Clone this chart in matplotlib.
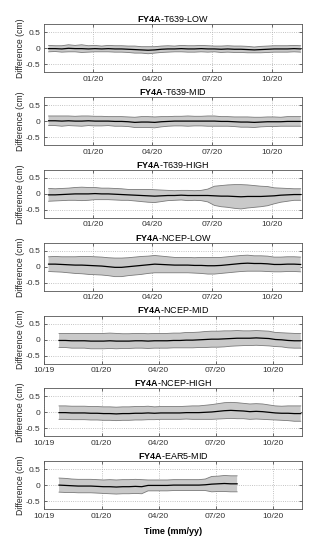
import matplotlib
matplotlib.use("Agg")
import matplotlib.pyplot as plt
import matplotlib.dates as mdates
import numpy as np
import pandas as pd

plt.rcParams['font.family'] = ['Liberation Sans', 'DejaVu Sans']
plt.rcParams['mathtext.fontset'] = 'custom'
plt.rcParams['mathtext.rm'] = 'Liberation Sans'
plt.rcParams['mathtext.bf'] = 'Liberation Sans:bold'

dates = pd.date_range('2019-10-25', '2020-11-14', periods=39)

titles = ['T639-LOW', 'T639-MID', 'T639-HIGH', 'NCEP-LOW',
          'NCEP-MID', 'NCEP-HIGH', 'EAR5-MID']

mean_t639_low = [-0.01,-0.01,-0.02,0.0,-0.01,-0.01,-0.02,-0.01,-0.02,-0.01,-0.02,-0.02,-0.03,-0.04,-0.05,-0.06,-0.05,-0.03,-0.02,-0.02,-0.01,-0.02,-0.02,-0.01,-0.02,-0.02,-0.03,-0.02,-0.03,-0.03,-0.04,-0.05,-0.04,-0.03,-0.02,-0.02,-0.02,-0.01,-0.02]
std_t639_low = [0.1,0.09,0.1,0.11,0.1,0.12,0.1,0.1,0.09,0.1,0.1,0.1,0.1,0.11,0.1,0.11,0.1,0.1,0.1,0.09,0.1,0.1,0.1,0.1,0.1,0.09,0.1,0.1,0.1,0.1,0.1,0.09,0.1,0.1,0.1,0.1,0.1,0.1,0.1]

mean_t639_mid = [0.01,0.01,0.0,0.01,0.0,0.0,0.01,0.0,0.0,0.0,-0.01,-0.01,-0.02,-0.04,-0.03,-0.03,-0.04,-0.02,-0.01,0.0,0.0,0.0,0.0,0.0,0.0,0.0,-0.01,-0.01,-0.02,-0.03,-0.03,-0.04,-0.03,-0.02,-0.02,-0.02,-0.01,-0.01,-0.01]
std_t639_mid = [0.15,0.15,0.16,0.15,0.15,0.16,0.15,0.15,0.15,0.14,0.15,0.15,0.15,0.16,0.17,0.17,0.17,0.16,0.15,0.15,0.15,0.16,0.15,0.15,0.16,0.16,0.15,0.15,0.15,0.16,0.16,0.16,0.15,0.15,0.15,0.14,0.15,0.15,0.15]

mean_t639_high = [-0.03,-0.03,-0.02,-0.01,0.0,0.0,0.0,0.01,0.0,0.0,-0.01,-0.02,-0.03,-0.04,-0.05,-0.06,-0.07,-0.06,-0.05,-0.05,-0.04,-0.05,-0.05,-0.05,-0.05,-0.06,-0.07,-0.07,-0.08,-0.09,-0.08,-0.08,-0.08,-0.07,-0.06,-0.04,-0.03,-0.02,-0.02]
std_t639_high = [0.2,0.19,0.19,0.19,0.2,0.21,0.2,0.19,0.18,0.18,0.18,0.18,0.17,0.18,0.19,0.2,0.2,0.18,0.16,0.15,0.15,0.16,0.15,0.16,0.2,0.3,0.33,0.35,0.37,0.38,0.36,0.34,0.32,0.3,0.25,0.22,0.2,0.18,0.18]

mean_ncep_low = [0.08,0.08,0.07,0.06,0.05,0.05,0.04,0.03,0.02,0.0,-0.02,-0.02,0.0,0.02,0.04,0.06,0.08,0.07,0.06,0.05,0.05,0.05,0.04,0.04,0.03,0.03,0.04,0.06,0.08,0.1,0.11,0.1,0.1,0.09,0.07,0.07,0.08,0.08,0.07]
std_ncep_low = [0.23,0.24,0.24,0.25,0.26,0.27,0.28,0.28,0.28,0.28,0.29,0.29,0.28,0.28,0.28,0.27,0.27,0.26,0.25,0.24,0.24,0.24,0.24,0.25,0.26,0.26,0.25,0.25,0.25,0.25,0.25,0.24,0.24,0.24,0.23,0.23,0.23,0.23,0.23]

mean_ncep_mid = [-0.03,-0.03,-0.04,-0.04,-0.04,-0.05,-0.05,-0.05,-0.04,-0.05,-0.05,-0.05,-0.04,-0.04,-0.05,-0.04,-0.04,-0.04,-0.03,-0.03,-0.02,-0.02,-0.01,0.0,0.01,0.01,0.02,0.03,0.04,0.04,0.04,0.05,0.04,0.03,0.0,-0.01,-0.03,-0.04,-0.04]
std_ncep_mid = [0.22,0.22,0.23,0.23,0.23,0.24,0.24,0.24,0.24,0.24,0.23,0.23,0.23,0.23,0.23,0.23,0.23,0.23,0.23,0.23,0.24,0.24,0.24,0.25,0.25,0.25,0.25,0.24,0.24,0.23,0.23,0.23,0.23,0.23,0.22,0.22,0.23,0.23,0.23]

mean_ncep_high = [-0.01,-0.01,-0.02,-0.02,-0.02,-0.03,-0.03,-0.04,-0.04,-0.05,-0.04,-0.04,-0.03,-0.03,-0.02,-0.03,-0.02,-0.02,-0.02,-0.02,-0.01,-0.01,-0.01,0.0,0.01,0.03,0.05,0.06,0.05,0.04,0.02,0.03,0.02,0.0,-0.02,-0.03,-0.03,-0.04,-0.04]
std_ncep_high = [0.21,0.21,0.21,0.21,0.21,0.21,0.21,0.21,0.21,0.21,0.21,0.21,0.21,0.21,0.21,0.2,0.2,0.2,0.2,0.2,0.2,0.21,0.21,0.22,0.23,0.24,0.25,0.25,0.25,0.24,0.24,0.24,0.24,0.23,0.22,0.22,0.23,0.24,0.24]

mean_ear5_mid = [0.0,-0.01,-0.02,-0.03,-0.03,-0.03,-0.04,-0.05,-0.05,-0.06,-0.05,-0.05,-0.04,-0.05,-0.01,-0.01,-0.01,-0.01,0.0,0.0,0.0,0.0,0.0,0.01,0.03,0.04,0.05,0.04,0.04]
std_ear5_mid = [0.22,0.22,0.21,0.21,0.21,0.21,0.21,0.21,0.22,0.22,0.22,0.22,0.22,0.22,0.17,0.17,0.17,0.17,0.17,0.17,0.17,0.17,0.17,0.18,0.24,0.24,0.25,0.25,0.25]

means = [mean_t639_low, mean_t639_mid, mean_t639_high, mean_ncep_low,
         mean_ncep_mid, mean_ncep_high, mean_ear5_mid]
stds = [std_t639_low, std_t639_mid, std_t639_high, std_ncep_low,
        std_ncep_mid, std_ncep_high, std_ear5_mid]

fig = plt.figure(figsize=(3.25, 5.5), dpi=100)
W, H = 325, 550
left, right = 44, 302
half_h = 24.0

for i in range(7):
    center = 48.3 + 72.8 * i
    top, bot = center - half_h, center + half_h
    ax = fig.add_axes([left / W, 1 - bot / H, (right - left) / W, (bot - top) / H])
    m = np.array(means[i])
    s = np.array(stds[i])
    d = dates[:len(m)]
    ax.fill_between(d, m - s, m + s, facecolor='#c9c9c9', edgecolor='none', zorder=2)
    ax.plot(d, m + s, color='#7a7a7a', lw=0.6, zorder=3)
    ax.plot(d, m - s, color='#7a7a7a', lw=0.6, zorder=3)
    ax.plot(d, m, color='black', lw=0.9, zorder=4)
    ax.set_ylim(-0.75, 0.75)
    ax.set_yticks([-0.5, 0, 0.5])
    ax.set_yticklabels(['-0.5', '0', '0.5'])
    if i < 4:
        ax.set_xlim(pd.Timestamp('2019-10-18'), pd.Timestamp('2020-11-16'))
        ticks = pd.to_datetime(['2020-01-01', '2020-04-01', '2020-07-01', '2020-10-01'])
    else:
        ax.set_xlim(pd.Timestamp('2019-10-01'), pd.Timestamp('2020-11-16'))
        ticks = pd.to_datetime(['2019-10-01', '2020-01-01', '2020-04-01', '2020-07-01', '2020-10-01'])
    ax.set_xticks(ticks)
    ax.xaxis.set_major_formatter(mdates.DateFormatter('%m/%y'))
    ax.grid(True, linestyle=':', color='#b0b0b0', lw=0.6, zorder=0)
    ax.tick_params(direction='in', length=2, width=0.5, labelsize=6,
                   top=True, right=True, colors='#333333', pad=2.5)
    for sp in ax.spines.values():
        sp.set_linewidth(0.6)
        sp.set_color('#555555')
    ax.set_title(r'$\mathbf{FY4A}$-' + titles[i], fontsize=6.5, pad=1.5)
    ax.set_ylabel('Difference (cm)', fontsize=6.2, labelpad=0.5, color='#222222')
    if i == 6:
        ax.set_xlabel('Time (mm/yy)', fontsize=6.5, fontweight='bold', labelpad=5)

fig.savefig('out.png', dpi=100, facecolor='white')
